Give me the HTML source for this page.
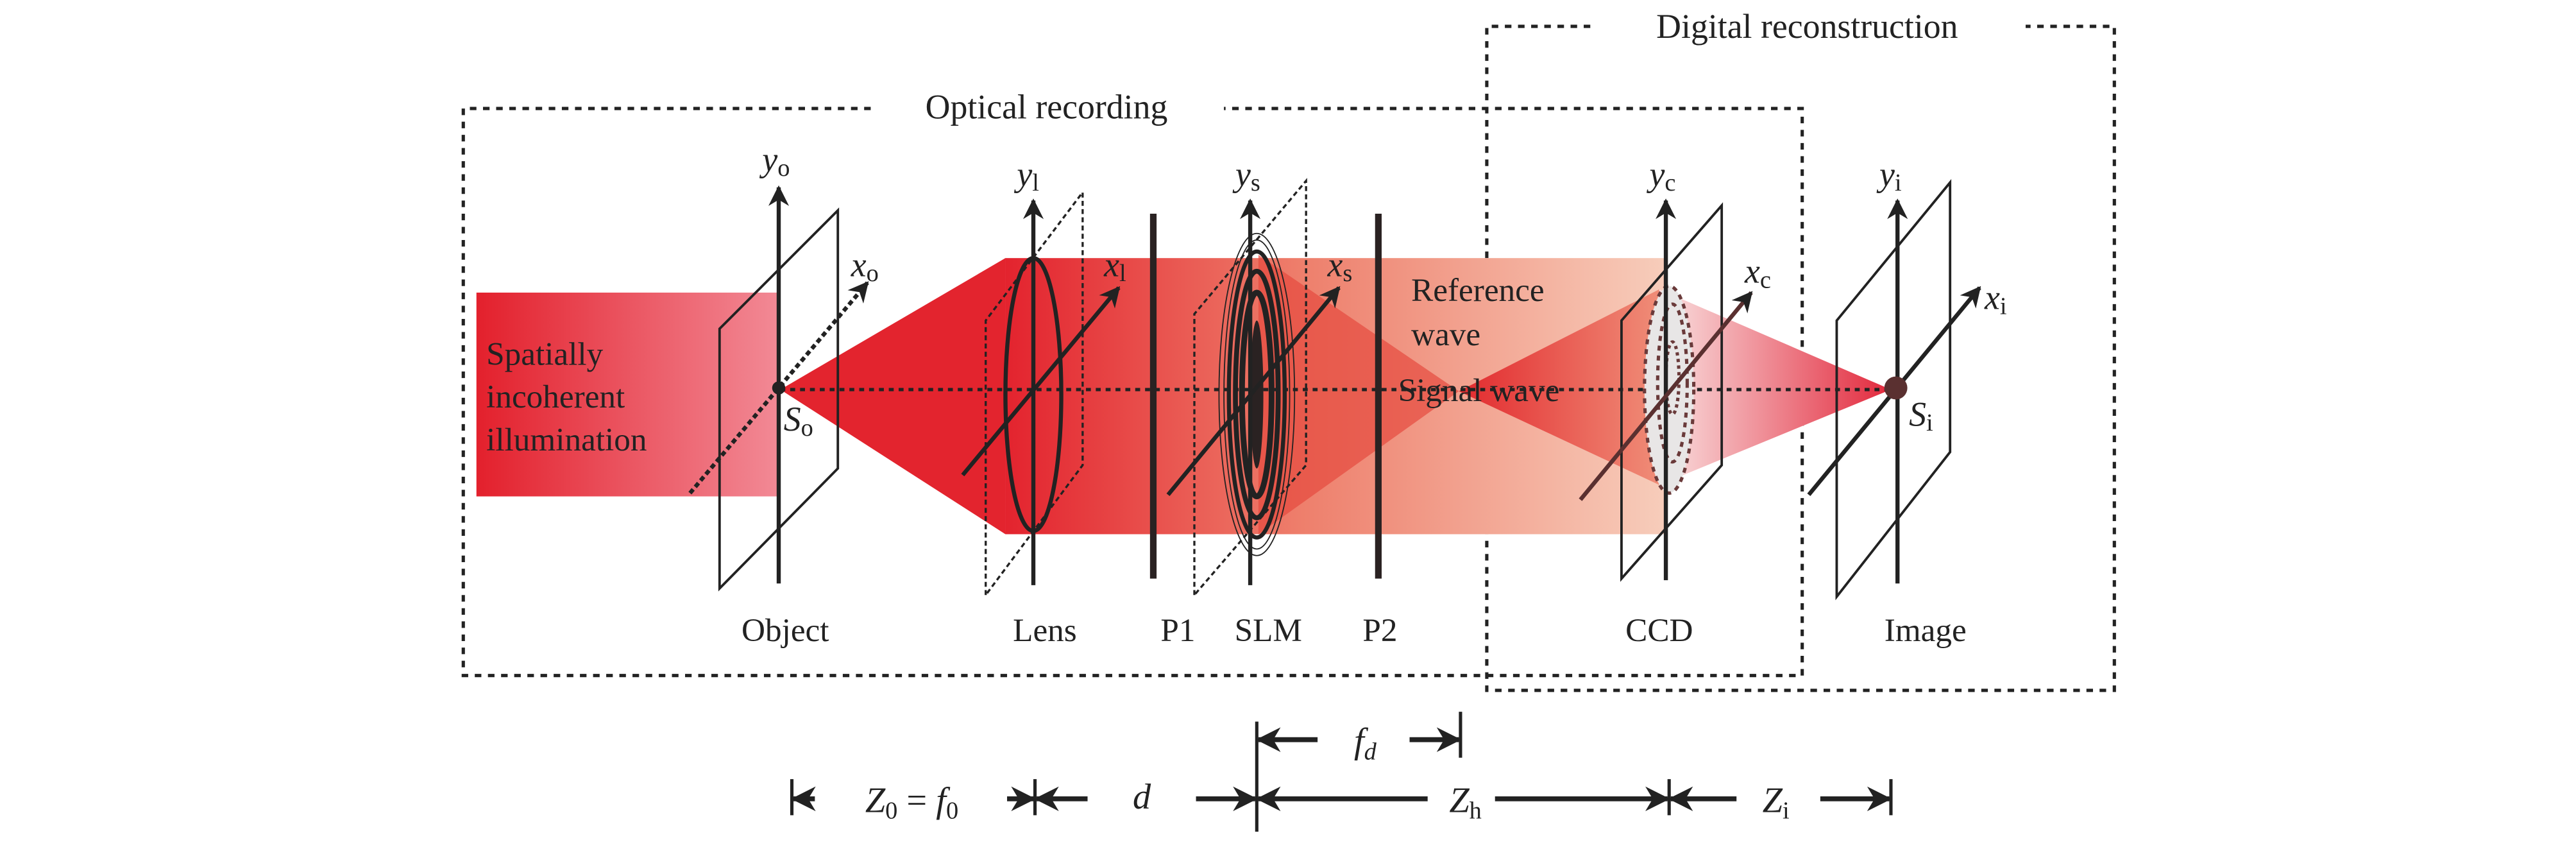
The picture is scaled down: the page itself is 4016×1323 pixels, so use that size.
<!DOCTYPE html>
<html><head><meta charset="utf-8"><style>
html,body{margin:0;padding:0;background:#fff;}
svg{display:block;}
text{font-family:"Liberation Serif",serif;fill:#222;}
</style></head><body>
<svg width="4016" height="1323" viewBox="0 0 1568 516.5" xmlns="http://www.w3.org/2000/svg">
<defs>
<linearGradient id="gL" x1="0" x2="1"><stop offset="0" stop-color="#e3202c"/><stop offset="1" stop-color="#f28a96"/></linearGradient>
<linearGradient id="gB" x1="612" x2="1014" gradientUnits="userSpaceOnUse"><stop offset="0" stop-color="#e3232e"/><stop offset="0.45" stop-color="#ee7f6c"/><stop offset="1" stop-color="#f7cdbb"/></linearGradient>
<linearGradient id="gS" x1="888" x2="1014" gradientUnits="userSpaceOnUse"><stop offset="0" stop-color="#e22a2e"/><stop offset="1" stop-color="#f0907a"/></linearGradient>
<linearGradient id="gI" x1="1014" x2="1151" gradientUnits="userSpaceOnUse"><stop offset="0" stop-color="#f9dcdc"/><stop offset="1" stop-color="#e2283c"/></linearGradient>
<marker id="ah" viewBox="0 0 10 10" refX="9" refY="5" markerWidth="5" markerHeight="5" orient="auto"><path d="M0,0 L10,5 L0,10 L3,5z" fill="#222"/></marker>
</defs>
<g fill="none" stroke="#222" stroke-width="2" stroke-dasharray="4,4">
<path d="M530,66 H282 V411 H1097 V66 H745"/>
<path d="M968,16 H905 V420 H1287 V16 H1233"/>
</g>
<text x="637" y="72" font-size="21" text-anchor="middle">Optical recording</text>
<text x="1100" y="23" font-size="21" text-anchor="middle">Digital reconstruction</text>
<rect x="290" y="178" width="185" height="124" fill="url(#gL)"/>
<polygon points="475,237 612,157 612,325" fill="#e3242e"/>
<rect x="612" y="157" width="402" height="168" fill="url(#gB)"/>
<polygon points="766,155 888,238 766,325" fill="#e64a3f" opacity="0.7"/>
<polygon points="888,238 1010,176 1010,295" fill="url(#gS)"/>
<polygon points="1010,176 1151,237 1010,295" fill="url(#gI)"/>
<line x1="475" y1="237" x2="1155" y2="237" stroke="#222" stroke-width="2" stroke-dasharray="3,3"/>
<g fill="none" stroke="#222" stroke-width="1.5">
<polygon points="438,358 438,200 510,128 510,285"/>
<polygon points="987,352 987,195 1048,125 1048,283"/>
<polygon points="1118,363 1118,195 1187,111 1187,275"/>
</g>
<g fill="none" stroke="#222" stroke-width="1.3" stroke-dasharray="3,2">
<polygon points="600,362 600,195 659,117 659,283"/>
<polygon points="727,362 727,191 795,110 795,283"/>
</g>
<ellipse cx="629" cy="240" rx="17" ry="83" fill="none" stroke="#222" stroke-width="2.5"/>
<g fill="none" stroke="#222">
<ellipse cx="765" cy="240" rx="23" ry="98" stroke-width="0.7"/>
<ellipse cx="765" cy="240" rx="20" ry="94" stroke-width="0.7"/>
<ellipse cx="765" cy="240" rx="17" ry="87" stroke-width="2.5"/>
<ellipse cx="765" cy="240" rx="13" ry="75" stroke-width="3"/>
<ellipse cx="765" cy="240" rx="9" ry="62" stroke-width="3.5"/>
</g>
<ellipse cx="765" cy="240" rx="4" ry="45" fill="#2a2222"/>
<ellipse cx="1016" cy="237" rx="15" ry="63" fill="#e8e6e6" stroke="#6a3a3a" stroke-width="2" stroke-dasharray="3,3"/>
<ellipse cx="1018" cy="233" rx="9" ry="48" fill="none" stroke="#6a3a3a" stroke-width="2" stroke-dasharray="3,3"/>
<ellipse cx="1018" cy="230" rx="4" ry="22" fill="none" stroke="#6a3a3a" stroke-width="2" stroke-dasharray="2,2"/>
<line x1="702" y1="130" x2="702" y2="352" stroke="#2a2222" stroke-width="4"/>
<line x1="839" y1="130" x2="839" y2="352" stroke="#2a2222" stroke-width="4"/>
<g stroke="#222" stroke-width="2.5" marker-end="url(#ah)">
<line x1="474" y1="355" x2="474" y2="114"/>
<line x1="629" y1="356" x2="629" y2="122"/>
<line x1="761" y1="356" x2="761" y2="122"/>
<line x1="1014" y1="353" x2="1014" y2="122"/>
<line x1="1155" y1="355" x2="1155" y2="122"/>
<line x1="586" y1="289" x2="681" y2="175"/>
<line x1="711" y1="301" x2="815" y2="175"/>
<line x1="1101" y1="301" x2="1205" y2="175"/>
</g>
<line x1="962" y1="304" x2="1066" y2="178" stroke="#5a3030" stroke-width="2.5" marker-end="url(#ah)"/>
<line x1="420" y1="300" x2="528" y2="172" stroke="#222" stroke-width="2.5" stroke-dasharray="3,2" marker-end="url(#ah)"/>
<circle cx="474" cy="236" r="4" fill="#222"/>
<circle cx="1154" cy="236" r="7" fill="#5a3030"/>
<g font-style="italic" font-size="21">
<text x="464" y="104">y<tspan font-style="normal" font-size="15" dy="3">o</tspan></text>
<text x="619" y="113">y<tspan font-style="normal" font-size="15" dy="3">l</tspan></text>
<text x="752" y="113">y<tspan font-style="normal" font-size="15" dy="3">s</tspan></text>
<text x="1004" y="113">y<tspan font-style="normal" font-size="15" dy="3">c</tspan></text>
<text x="1144" y="113">y<tspan font-style="normal" font-size="15" dy="3">i</tspan></text>
<text x="518" y="168">x<tspan font-style="normal" font-size="15" dy="3">o</tspan></text>
<text x="672" y="168">x<tspan font-style="normal" font-size="15" dy="3">l</tspan></text>
<text x="808" y="168">x<tspan font-style="normal" font-size="15" dy="3">s</tspan></text>
<text x="1062" y="172">x<tspan font-style="normal" font-size="15" dy="3">c</tspan></text>
<text x="1208" y="188">x<tspan font-style="normal" font-size="15" dy="3">i</tspan></text>
<text x="477" y="262">S<tspan font-style="normal" font-size="15" dy="3">o</tspan></text>
<text x="1162" y="259">S<tspan font-style="normal" font-size="15" dy="3">i</tspan></text>
</g>
<g font-size="20">
<text x="296" y="222">Spatially</text>
<text x="296" y="248">incoherent</text>
<text x="296" y="274">illumination</text>
<text x="859" y="183">Reference</text>
<text x="859" y="210">wave</text>
<text x="851" y="244">Signal wave</text>
<text x="478" y="390" text-anchor="middle">Object</text>
<text x="636" y="390" text-anchor="middle">Lens</text>
<text x="717" y="390" text-anchor="middle">P1</text>
<text x="772" y="390" text-anchor="middle">SLM</text>
<text x="840" y="390" text-anchor="middle">P2</text>
<text x="1010" y="390" text-anchor="middle">CCD</text>
<text x="1172" y="390" text-anchor="middle">Image</text>
</g>
<g stroke="#222" stroke-width="2">
<line x1="482" y1="474" x2="482" y2="496"/>
<line x1="630" y1="474" x2="630" y2="496"/>
<line x1="765" y1="439" x2="765" y2="506"/>
<line x1="889" y1="433" x2="889" y2="461"/>
<line x1="1016" y1="474" x2="1016" y2="496"/>
<line x1="1151" y1="474" x2="1151" y2="496"/>
</g>
<g stroke="#222" stroke-width="3" marker-end="url(#ah)">
<line x1="496" y1="486" x2="483" y2="486"/>
<line x1="613" y1="486" x2="629" y2="486"/>
<line x1="662" y1="486" x2="631" y2="486"/>
<line x1="728" y1="486" x2="764" y2="486"/>
<line x1="869" y1="486" x2="766" y2="486"/>
<line x1="910" y1="486" x2="1015" y2="486"/>
<line x1="1057" y1="486" x2="1017" y2="486"/>
<line x1="1108" y1="486" x2="1150" y2="486"/>
<line x1="802" y1="450" x2="766" y2="450"/>
<line x1="858" y1="450" x2="888" y2="450"/>
</g>
<g font-size="22" font-style="italic" text-anchor="middle">
<text x="555" y="494">Z<tspan font-style="normal" font-size="15" dy="4">0</tspan><tspan dy="-4" font-style="normal"> = </tspan>f<tspan font-style="normal" font-size="15" dy="4">0</tspan></text>
<text x="695" y="492">d</text>
<text x="892" y="494">Z<tspan font-style="normal" font-size="15" dy="4">h</tspan></text>
<text x="1081" y="494">Z<tspan font-style="normal" font-size="15" dy="4">i</tspan></text>
<text x="831" y="458">f<tspan font-size="15" dy="4">d</tspan></text>
</g>
</svg>
</body></html>
